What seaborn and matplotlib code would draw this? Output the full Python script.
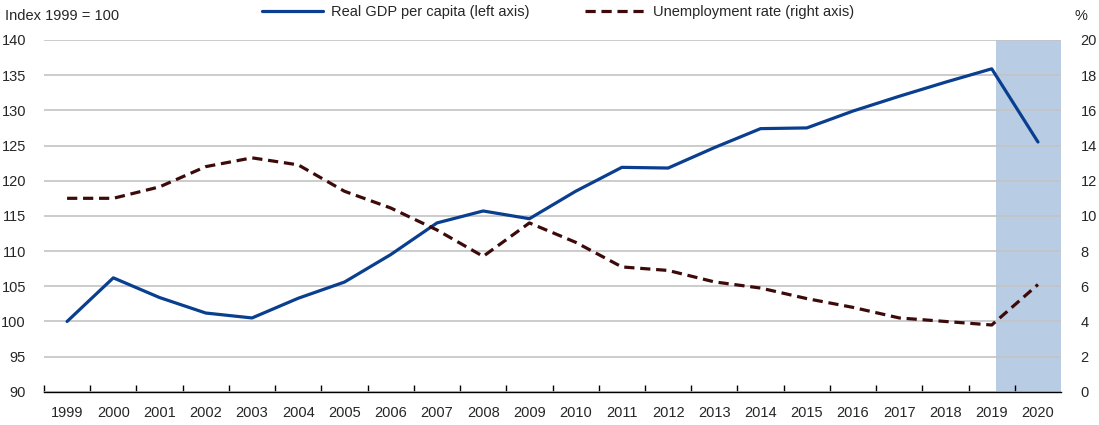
import pandas as pd
import matplotlib
matplotlib.use("Agg")
import matplotlib.pyplot as plt
import seaborn as sns

# --- Data ---
years = list(range(1999, 2021))
gdp_per_capita = [100.0, 106.2, 103.4, 101.2, 100.5, 103.3, 105.6, 109.5, 114.0, 115.7,
                  114.6, 118.5, 121.9, 121.8, 124.7, 127.4, 127.5, 129.9, 132.0, 134.0,
                  135.9, 125.5]
unemployment = [11.0, 11.0, 11.65, 12.8, 13.3, 12.9, 11.4, 10.45, 9.2, 7.7,
                9.6, 8.5, 7.1, 6.9, 6.25, 5.9, 5.3, 4.8, 4.2, 4.0,
                3.8, 6.1]
shade_span = (2019.1, 2020.5)

df = pd.DataFrame({"Year": years, "GDP": gdp_per_capita, "Unemp": unemployment})

sns.set_style("white")
plt.rcParams["font.family"] = ["Liberation Sans", "DejaVu Sans"]
plt.rcParams["font.size"] = 10.5

blue = "#0a3f8f"
brown = "#3d0a0a"

fig = plt.figure(figsize=(10.99, 4.25), dpi=100)
ax = fig.add_axes([0.040, 0.078, 0.9255, 0.828])
ax2 = ax.twinx()

# --- Shaded area ---
ax.axvspan(*shade_span, color="#b8cce4", lw=0, zorder=0)

# --- Lines ---
sns.lineplot(data=df, x="Year", y="GDP", ax=ax, color=blue, lw=2.3,
             label="Real GDP per capita (left axis)", legend=False, zorder=3)
sns.lineplot(data=df, x="Year", y="Unemp", ax=ax2, color=brown, lw=2.3,
             linestyle=(0, (3.2, 1.8)), label="Unemployment rate (right axis)",
             legend=False, zorder=3)

# --- Axes ---
ax.set_xlim(1998.5, 2020.5)
ax.set_ylim(90, 140)
ax2.set_ylim(0, 20)
ax.set_yticks(range(90, 141, 5))
ax2.set_yticks(range(0, 21, 2))
ax.set_xticks(years)
ax.set_xticklabels([str(y) for y in years])
ax.set_xticks([y + 0.5 for y in years[:-1]] + [1998.5], minor=True)
ax.tick_params(axis="x", which="major", bottom=False, length=0, pad=10)
ax.tick_params(axis="x", which="minor", bottom=True, direction="in", length=5,
               color="black", width=1)
ax.tick_params(axis="y", length=0, pad=13)
ax2.tick_params(axis="y", length=0, pad=14)
ax.set_xlabel("")
ax.set_ylabel("")
ax2.set_ylabel("")
ax.grid(axis="y", color="#c4c4c4", lw=1.2, zorder=1)
ax.set_axisbelow(True)
for a in (ax, ax2):
    for s in ("left", "right", "top", "bottom"):
        a.spines[s].set_visible(False)
ax.spines["bottom"].set_visible(True)
ax.spines["bottom"].set_color("black")
ax.spines["bottom"].set_linewidth(1)

# --- Annotations ---
fig.text(0.005, 0.962, "Index 1999 = 100", ha="left", va="center", fontsize=10.5)
fig.text(0.984, 0.962, "%", ha="center", va="center", fontsize=10.5)

h1, l1 = ax.get_legend_handles_labels()
h2, l2 = ax2.get_legend_handles_labels()
fig.legend(h1 + h2, l1 + l2, loc="center", bbox_to_anchor=(0.508, 0.972), ncol=2,
           frameon=False, handlelength=4.2, columnspacing=3.8, handletextpad=0.5,
           fontsize=10.5)

fig.savefig("out.png", dpi=100)
